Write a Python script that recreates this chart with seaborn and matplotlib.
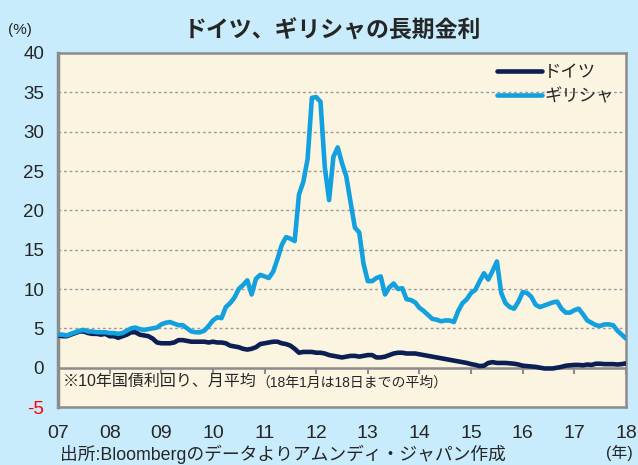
import numpy as np
import pandas as pd
import seaborn as sns
import matplotlib.pyplot as plt

# monthly 10y yields, Jan 2007 .. Jan 2018
germany = [4.1, 4.0, 4.0, 4.2, 4.4, 4.6, 4.6, 4.4, 4.3, 4.3, 4.2, 4.3,
           4.0, 4.0, 3.8, 4.0, 4.2, 4.5, 4.5, 4.2, 4.1, 4.0, 3.7, 3.2,
           3.1, 3.1, 3.1, 3.2, 3.5, 3.5, 3.4, 3.3, 3.3, 3.3, 3.3, 3.2,
           3.3, 3.2, 3.2, 3.1, 2.8, 2.7, 2.6, 2.4, 2.3, 2.4, 2.6, 3.0,
           3.1, 3.2, 3.3, 3.3, 3.1, 3.0, 2.8, 2.4, 1.9, 2.0, 2.0, 2.0,
           1.9, 1.9, 1.8, 1.6, 1.5, 1.4, 1.3, 1.4, 1.5, 1.5, 1.4, 1.5,
           1.6, 1.6, 1.3, 1.3, 1.4, 1.6, 1.8, 1.9, 1.9, 1.8, 1.8, 1.8,
           1.7, 1.6, 1.5, 1.4, 1.3, 1.2, 1.1, 1.0, 0.9, 0.8, 0.7, 0.6,
           0.45, 0.35, 0.2, 0.25, 0.6, 0.7, 0.6, 0.6, 0.6, 0.55, 0.5, 0.4,
           0.25, 0.2, 0.15, 0.1, 0.0, -0.1, -0.1, -0.1, 0.0, 0.1, 0.25, 0.3,
           0.35, 0.35, 0.3, 0.4, 0.35, 0.5, 0.5, 0.45, 0.45, 0.45, 0.4, 0.45,
           0.55]
greece = [4.2, 4.2, 4.1, 4.3, 4.5, 4.7, 4.8, 4.6, 4.6, 4.5, 4.5, 4.5,
          4.4, 4.4, 4.3, 4.4, 4.7, 5.0, 5.1, 4.9, 4.8, 4.9, 5.0, 5.1,
          5.5, 5.7, 5.8, 5.6, 5.4, 5.4, 5.0, 4.6, 4.5, 4.5, 4.7, 5.3,
          6.0, 6.4, 6.3, 7.7, 8.2, 8.9, 10.0, 10.5, 11.1, 9.3, 11.3, 11.8,
          11.6, 11.4, 12.2, 13.8, 15.6, 16.6, 16.4, 16.1, 22.0, 23.6, 26.5, 34.3,
          34.4, 33.8, 25.5, 21.3, 26.8, 28.0, 26.0, 24.3, 21.0, 17.8, 17.2, 13.2,
          11.0, 11.0, 11.4, 11.6, 9.3, 10.2, 10.7, 10.0, 10.1, 8.7, 8.6, 8.3,
          7.6, 7.2, 6.7, 6.2, 6.1, 5.9, 6.0, 6.0, 5.8, 7.2, 8.2, 8.7,
          9.5, 9.9, 11.0, 12.0, 11.2, 12.3, 13.5, 9.5, 8.2, 7.7, 7.5, 8.4,
          9.6, 9.5, 9.0, 8.0, 7.7, 7.9, 8.1, 8.3, 8.4, 7.5, 7.0, 7.0,
          7.3, 7.5, 6.8, 6.0, 5.7, 5.4, 5.3, 5.5, 5.5, 5.4, 4.7, 4.2,
          3.7]
series_names = ['ドイツ', 'ギリシャ']
series_colors = ['#0c1f52', '#12a0de']
year_ticks = list(range(2007, 2019))
year_labels = ['07', '08', '09', '10', '11', '12', '13', '14', '15', '16', '17', '18']
y_ticks = [-5, 0, 5, 10, 15, 20, 25, 30, 35, 40]

months = 2007 + np.arange(len(germany)) / 12.0
df = pd.DataFrame({
    'year': np.concatenate([months, months]),
    'rate': germany + greece,
    'country': [series_names[0]] * len(germany) + [series_names[1]] * len(greece),
})

sns.set_style('white')
plt.rcParams['font.family'] = ['Liberation Sans', 'Noto Sans CJK JP']

fig = plt.figure(figsize=(6.38, 4.65), dpi=100)
fig.patch.set_facecolor('#c8ecfc')
ax = fig.add_axes([58 / 638, 1 - 407 / 465, 568 / 638, 354 / 465])
ax.set_facecolor('#fbf4e1')

# dotted grid
for v in y_ticks[2:-1]:
    ax.axhline(v, color='#9a9a9a', lw=1.0, ls=(0, (2, 2)), zorder=1)
# zero axis with year ticks
ax.axhline(0, color='#8c8c8c', lw=1.8, zorder=2)
ax.vlines(year_ticks, -0.75, 0, color='#8c8c8c', lw=1.5, zorder=2)

sns.lineplot(data=df, x='year', y='rate', hue='country', hue_order=series_names,
             palette=series_colors, linewidth=3.3, ax=ax, zorder=3)

ax.set_xlim(2007, 2018)
ax.set_ylim(-5, 40)
ax.set_xticks(year_ticks)
ax.set_xticklabels(year_labels)
ax.set_yticks(y_ticks)
ax.set_yticklabels([str(v) for v in y_ticks])
ax.tick_params(axis='x', length=0, pad=13, labelsize=14)
ax.tick_params(axis='y', length=6, width=1.5, color='#8c8c8c', direction='out', pad=4, labelsize=13.5)
ax.get_yticklabels()[0].set_color('#ff0000')
ax.set_xlabel('')
ax.set_ylabel('')
for side in ['top', 'right', 'bottom', 'left']:
    ax.spines[side].set_color('#8c8c8c')
    ax.spines[side].set_linewidth(1.8)
    ax.spines[side].set_visible(True)
ax.spines['left'].set_linewidth(2.5)

ax.legend(loc='upper right', frameon=False, fontsize=12.5, handlelength=2.6,
          handletextpad=0.15, labelspacing=0.45, borderaxespad=0.3,
          bbox_to_anchor=(1.0, 1.0))

note = ax.text(0.008, 0.05, '※10年国債利回り、月平均', transform=ax.transAxes,
               fontsize=11.5, va='bottom', ha='left')
ax.annotate('（18年1月は18日までの平均）', xy=(1, 0), xycoords=note,
            fontsize=10, va='bottom', ha='left')

fig.text(332 / 638, 1 - 31 / 465, 'ドイツ、ギリシャの長期金利', fontsize=16.5,
         fontweight='bold', ha='center', va='center')
fig.text(8 / 638, 1 - 30 / 465, '(%)', fontsize=11, ha='left', va='center')
fig.text(60 / 638, 1 - 454 / 465, '出所:Bloombergのデータよりアムンディ・ジャパン作成',
         fontsize=12.8, ha='left', va='center')
fig.text(619 / 638, 1 - 453 / 465, '(年)', fontsize=11.5, ha='center', va='center')

fig.savefig('out.png', dpi=100, facecolor=fig.get_facecolor())
